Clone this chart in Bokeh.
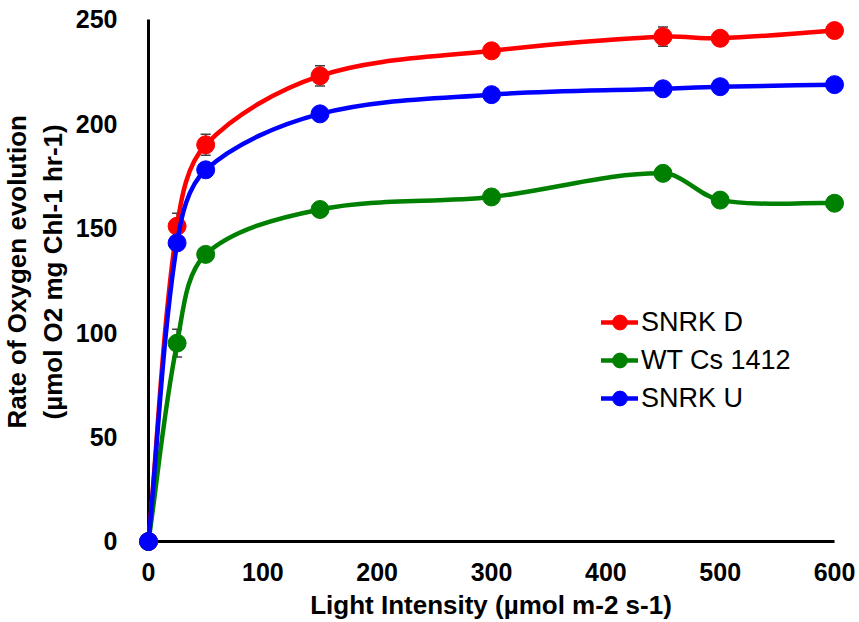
import math
from bokeh.plotting import figure
from bokeh.models import (ColumnDataSource, Legend, LegendItem, Whisker,
                          FixedTicker, TeeHead, Title)
from bokeh.embed import file_html
from bokeh.resources import INLINE

# ---- data ----
light = [0, 25, 50, 150, 300, 450, 500, 600]
snrk_d = [0, 151, 190, 223, 235, 241.8, 241, 244.7]
wt_cs = [0, 95, 137.5, 159, 165, 176.3, 163.5, 162]
snrk_u = [0, 143, 178, 204.8, 214, 216.8, 217.8, 218.8]
err_d = [0, 6.2, 5.0, 4.8, 3, 4.6, 3, 3]
err_wt = [0, 6.7, 3, 3, 3, 3, 3, 3]
err_u = [0, 3, 3, 3, 2, 2, 2, 2]
series_names = ["SNRK D", "WT Cs 1412", "SNRK U"]
series_colors = ["#FF0000", "#008000", "#0000FF"]
x_ticks = [0, 100, 200, 300, 400, 500, 600]
y_ticks = [0, 50, 100, 150, 200, 250]
x_title = "Light Intensity (\u00b5mol m-2 s-1)"
y_title_lines = ["Rate of Oxygen evolution", "(\u00b5mol O2 mg Chl-1 hr-1)"]

FONT = "Liberation Sans"
X0, X1 = -10.5, 609.6
Y0, Y1 = -5.27, 254.3
SX = 709 / (X1 - X0)   # px per x unit
SY = 542 / (Y1 - Y0)   # px per y unit

p = figure(width=859, height=622, output_backend="svg", toolbar_location=None,
           x_range=(X0, X1), y_range=(Y0, Y1),
           min_border_left=136, min_border_right=14,
           min_border_top=10, min_border_bottom=70)
p.outline_line_color = None
p.grid.visible = False
p.background_fill_color = "white"

for ax in (p.xaxis[0], p.yaxis[0]):
    ax.axis_line_color = None
    ax.major_tick_line_color = None
    ax.minor_tick_line_color = None
    ax.major_label_text_font = FONT
    ax.major_label_text_font_style = "bold"
    ax.major_label_text_font_size = "25px"
    ax.major_label_text_color = "black"
    ax.axis_label_text_font = FONT
    ax.axis_label_text_font_style = "bold"
    ax.axis_label_text_color = "black"

p.xaxis.ticker = FixedTicker(ticks=x_ticks)
p.yaxis.ticker = FixedTicker(ticks=y_ticks)
p.xaxis.major_label_standoff = 4
p.yaxis.major_label_standoff = 13
p.xaxis.axis_label = x_title
p.xaxis.axis_label_text_font_size = "26px"
p.xaxis.axis_label_standoff = 6

# y-axis title: two rotated lines in the left panel (inner line added first)
for line, off, so in [(y_title_lines[1], 133, 8), (y_title_lines[0], 124, 0)]:
    p.add_layout(Title(text=line, align="left", offset=off,
                       vertical_align="middle", standoff=so,
                       text_font=FONT, text_font_style="bold",
                       text_font_size="26px", text_color="black"), "left")

# axis lines drawn at data zero
p.segment(x0=[min(x_ticks), 0], y0=[0, min(y_ticks)],
          x1=[max(x_ticks), 0], y1=[0, max(y_ticks)],
          line_color="black", line_width=3, level="underlay")


def smooth_segments(xs, ys):
    # chord-length weighted Catmull-Rom (computed in screen proportions)
    n = len(xs)
    P = [(x * SX, y * SY) for x, y in zip(xs, ys)]

    def dist(a, b):
        return math.hypot(P[a][0] - P[b][0], P[a][1] - P[b][1])

    out = dict(x0=[], y0=[], x1=[], y1=[], cx0=[], cy0=[], cx1=[], cy1=[])
    for i in range(n - 1):
        a = i - 1 if i > 0 else i
        d = i + 2 if i + 2 < n else i + 1
        d01, d12, d23 = dist(a, i), dist(i, i + 1), dist(i + 1, d)
        f0 = d12 / (d01 + d12) / 3.0 if d01 > 0 else 1 / 3.0
        f1 = d12 / (d12 + d23) / 3.0 if d23 > 0 else 1 / 3.0
        out["x0"].append(xs[i]); out["y0"].append(ys[i])
        out["x1"].append(xs[i + 1]); out["y1"].append(ys[i + 1])
        out["cx0"].append(xs[i] + (xs[i + 1] - xs[a]) * f0)
        out["cy0"].append(ys[i] + (ys[i + 1] - ys[a]) * f0)
        out["cx1"].append(xs[i + 1] - (xs[d] - xs[i]) * f1)
        out["cy1"].append(ys[i + 1] - (ys[d] - ys[i]) * f1)
    return out


items = []
for name, ys, errs, col in zip(series_names, [snrk_d, wt_cs, snrk_u],
                               [err_d, err_wt, err_u], series_colors):
    seg = ColumnDataSource(smooth_segments(light, ys))
    lr = p.bezier(x0="x0", y0="y0", x1="x1", y1="y1", cx0="cx0", cy0="cy0",
                  cx1="cx1", cy1="cy1", source=seg, line_color=col,
                  line_width=4.5, line_cap="round")
    src = ColumnDataSource(dict(x=light, y=ys,
                                lo=[v - e for v, e in zip(ys, errs)],
                                hi=[v + e for v, e in zip(ys, errs)]))
    w = Whisker(base="x", upper="hi", lower="lo", source=src,
                line_color="#404040", line_width=1.5,
                upper_head=TeeHead(size=10, line_color="#404040", line_width=1.5),
                lower_head=TeeHead(size=10, line_color="#404040", line_width=1.5))
    p.add_layout(w)
    sr = p.scatter(x="x", y="y", source=src, size=18, fill_color=col,
                   line_color=col, line_width=1)
    items.append(LegendItem(label=name, renderers=[lr, sr]))

legend = Legend(items=items, location=(465, 135), orientation="vertical",
                glyph_width=37, glyph_height=38, label_height=38,
                label_standoff=3, spacing=0, padding=0, margin=0,
                border_line_color=None, background_fill_alpha=0,
                label_text_font=FONT, label_text_font_size="27px",
                label_text_color="black")
p.add_layout(legend)

open("out.html", "w").write(file_html(p, INLINE))
